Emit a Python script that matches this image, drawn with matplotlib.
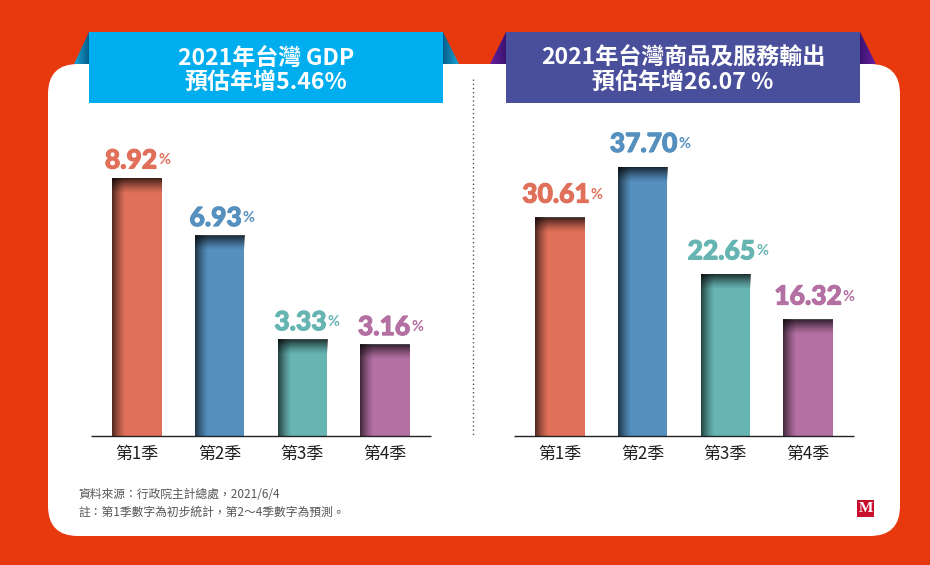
import numpy as np
import matplotlib
matplotlib.use('Agg')
import matplotlib.pyplot as plt
import matplotlib.patheffects as pe
from matplotlib.patches import FancyBboxPatch, Polygon, Rectangle

plt.rcParams['font.family'] = ['Noto Sans CJK TC', 'DejaVu Sans']

quarters = ['第1季', '第2季', '第3季', '第4季']
gdp_growth = [8.92, 6.93, 3.33, 3.16]
export_growth = [30.61, 37.70, 22.65, 16.32]
gdp_title = '2021年台灣\u2009GDP\n預估年增5.46%'
export_title = '2021年台灣商品及服務輸出\n預估年增26.07 %'
source_note = '資料來源：行政院主計總處，2021/6/4'
extra_note = '註：第1季數字為初步統計，第2～4季數字為預測。'
bar_colors = ['#E07059', '#5590BF', '#66B5B3', '#B46FA3']

W, H = 930, 565
BASE_Y = 436
TOP_Y = 104

fig = plt.figure(figsize=(W / 100, H / 100), dpi=100, facecolor='#E8380D')

# background layer, works in pixels of the picture
bg = fig.add_axes([0, 0, 1, 1])
bg.set_xlim(0, W)
bg.set_ylim(H, 0)
bg.axis('off')


def fold(x_edge, x_tip, dark, light):
    # little ribbon fold behind the banner, darker towards the banner
    xs = sorted([x_edge, x_tip])
    grad = np.linspace(0, 1, 32).reshape(1, -1)
    if x_tip < x_edge:
        grad = grad[:, ::-1]
    cmap = matplotlib.colors.LinearSegmentedColormap.from_list('f', [dark, light])
    im = bg.imshow(grad, extent=[xs[0], xs[1], 64, 32], cmap=cmap, aspect='auto', zorder=1)
    tri = Polygon([(x_edge, 32), (x_tip, 64), (x_edge, 64)], transform=bg.transData, fc='none', ec='none')
    bg.add_patch(tri)
    im.set_clip_path(tri)


fold(89, 74, '#075E8C', '#1AA5D6')
fold(443, 459, '#075E8C', '#1AA5D6')
fold(506, 490, '#3A1470', '#6A1FA0')
fold(860, 876, '#3A1470', '#6A1FA0')
bg.set_xlim(0, W)
bg.set_ylim(H, 0)

card = FancyBboxPatch((48 + 30, 64 + 30), 852 - 60, 472 - 60, boxstyle='round,pad=30,rounding_size=30',
                      fc='white', ec='none', zorder=2)
bg.add_patch(card)

bg.add_patch(Rectangle((89, 32), 354, 71, fc='#00AEEF', ec='none', zorder=3))
bg.add_patch(Rectangle((506, 32), 354, 71, fc='#4A4F9C', ec='none', zorder=3))
bg.text(266, 70.5, gdp_title, color='white', fontsize=16.6, fontweight='bold', ha='center', va='center',
        linespacing=1.09, zorder=4)
bg.text(683, 70.5, export_title, color='white', fontsize=16.6, fontweight='bold', ha='center', va='center',
        linespacing=1.09, zorder=4)

bg.plot([473, 473], [79, 436], color='#555555', lw=1, ls=(0, (1, 2)), zorder=3)

bg.text(78, 495, source_note, color='#555555', fontsize=8.5, va='center', zorder=4)
bg.text(78, 512.5, extra_note, color='#555555', fontsize=8.5, va='center', zorder=4)

bg.add_patch(Rectangle((857, 500), 17, 17, fc='#C8102E', ec='none', zorder=3))
bg.text(865.5, 508.5, 'M', color='white', fontsize=11, fontweight='bold', family='Liberation Serif',
        ha='center', va='center', zorder=4)


def shade_bar(ax, bar):
    # dark fade on the top and left edge of a bar, one image per bar
    x0, w = bar.get_x(), bar.get_width()
    top = bar.get_height()
    bbox = ax.get_window_extent()
    px_h = bbox.height / (ax.get_ylim()[1] - ax.get_ylim()[0])
    px_w = bbox.width / (ax.get_xlim()[1] - ax.get_xlim()[0])

    rows = int(round(top * px_h))
    cols = int(round(w * px_w))
    a_top = np.clip(1 - np.arange(rows) / 15, 0, 1) ** 1.3 * 0.72
    a_left = np.clip(1 - np.arange(cols) / 13, 0, 1) ** 1.3 * 0.62
    img = np.zeros((rows, cols, 4))
    img[:, :, 3] = 1 - (1 - a_top[:, None]) * (1 - a_left[None, :])
    ax.imshow(img, extent=[x0, x0 + w, 0, top], aspect='auto', zorder=3, interpolation='nearest')


def draw_panel(left, right, values, label_dx, label_gap):
    ax = fig.add_axes([left / W, 1 - BASE_Y / H, (right - left) / W, (BASE_Y - TOP_Y) / H])
    ax.patch.set_alpha(0)
    x = np.arange(len(values))
    scale = (269 / 37.70) if max(values) > 10 else (258 / 8.92)
    bars = ax.bar(x, values, width=0.6, color=bar_colors, zorder=2)
    ax.set_xlim(-0.556, 3.556)
    ax.set_ylim(0, (BASE_Y - TOP_Y) / scale)
    for bar in bars:
        shade_bar(ax, bar)
    ax.set_xlim(-0.556, 3.556)
    ax.set_ylim(0, (BASE_Y - TOP_Y) / scale)
    ax.set_xticks(x, quarters, fontsize=12.2, color='#222222')
    ax.tick_params(axis='x', length=0, pad=6.5)
    ax.set_yticks([])
    for side in ['top', 'left', 'right']:
        ax.spines[side].set_visible(False)
    ax.spines['bottom'].set_color('#222222')
    ax.spines['bottom'].set_linewidth(1)
    ax.spines['bottom'].set_capstyle('butt')
    for i, v in enumerate(values):
        y = v + label_gap / scale
        t = ax.annotate(f'{v:.2f}', (i, y), xytext=(label_dx[i] - 7, 0), textcoords='offset pixels',
                        color=bar_colors[i], fontsize=19, family='Lato', fontweight='black',
                        ha='center', va='center', annotation_clip=False,
                        path_effects=[pe.withStroke(linewidth=0.8, foreground=bar_colors[i])])
        ax.annotate('%', xy=(1, 0.5), xycoords=t, xytext=(1, 0), textcoords='offset pixels',
                    color=bar_colors[i], fontsize=10.5, family='Lato', fontweight='bold', ha='left', va='center')
    return ax


draw_panel(91, 431, gdp_growth, [1, 3, 5, 6], 17.5)
draw_panel(514, 854, export_growth, [3, 8, 3, 7], 23)

fig.savefig('out.png', dpi=100, facecolor=fig.get_facecolor())
